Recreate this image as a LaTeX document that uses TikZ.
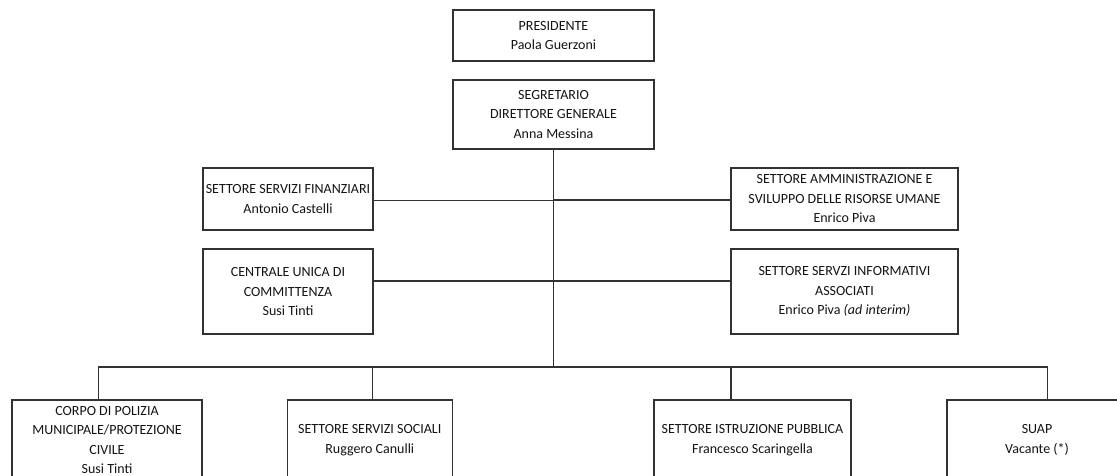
\documentclass[tikz,border=0pt]{standalone}
\usepackage{fontspec}
\setmainfont{Carlito}
\definecolor{linecol}{RGB}{50,50,50}
\definecolor{txtcol}{RGB}{20,20,20}
\begin{document}
\begin{tikzpicture}[x=1pt,y=-1pt,
  box/.style={draw=linecol, line width=1.2pt, rectangle, align=center, inner sep=0pt,
    text=txtcol, font=\fontsize{14}{19.5}\selectfont},
  conn/.style={draw=linecol, line width=1.2pt}]
\clip (0,0) rectangle (1117,475);
\useasboundingbox (0,0) rectangle (1117,475);
\fill[white] (0,0) rectangle (1117,475);

\node[box, minimum width=201pt, minimum height=51pt] (pres) at (553.5,35.5) {PRESIDENTE\\Paola Guerzoni};
\node[box, minimum width=201pt, minimum height=69pt] (segr) at (553.5,114.5) {SEGRETARIO\\DIRETTORE GENERALE\\Anna Messina};

\node[box, minimum width=170pt, minimum height=62pt] (fin) at (288,199) {SETTORE SERVIZI FINANZIARI\\Antonio Castelli};
\node[box, minimum width=170pt, minimum height=85pt] (cuc) at (288,291.5) {CENTRALE UNICA DI\\COMMITTENZA\\Susi Tinti};
\node[box, minimum width=227pt, minimum height=62pt] (amm) at (844.5,199) {SETTORE AMMINISTRAZIONE E\\SVILUPPO DELLE RISORSE UMANE\\Enrico Piva};
\node[box, minimum width=227pt, minimum height=85pt] (inf) at (844.5,291.5) {SETTORE SERVZI INFORMATIVI\\ASSOCIATI\\Enrico Piva \textit{(ad interim)}};

\node[box, minimum width=190pt, minimum height=80pt] (corpo) at (107,440) {CORPO DI POLIZIA\\MUNICIPALE/PROTEZIONE\\CIVILE\\Susi Tinti};
\node[box, minimum width=165pt, minimum height=80pt] (soc) at (369.8,440) {SETTORE SERVIZI SOCIALI\\Ruggero Canulli};
\node[box, minimum width=197pt, minimum height=80pt] (istr) at (752.5,440) {SETTORE ISTRUZIONE PUBBLICA\\Francesco Scaringella};
\node[box, minimum width=180pt, minimum height=80pt] (suap) at (1037,440) {SUAP\\Vacante (*)};

\coordinate (bus) at (553.5,367);

\draw[conn] (segr.south) -- (bus);
\draw[conn] ([yshift=-1.5pt]fin.east) -- ([yshift=-1.5pt]fin.east -| segr.south);
\draw[conn] ([yshift=-1pt]amm.west) -- ([yshift=-1pt]amm.west -| segr.south);
\draw[conn] ([yshift=10.5pt]cuc.east) -- ([yshift=10.5pt]cuc.east -| segr.south);
\draw[conn] ([yshift=10.5pt]inf.west) -- ([yshift=10.5pt]inf.west -| segr.south);

\draw[conn] (bus) -| ([xshift=-8.3pt]corpo.north);
\draw[conn] (bus) -| ([xshift=2.5pt]soc.north);
\draw[conn] (bus) -| ([xshift=-21.5pt]istr.north);
\draw[conn] (bus) -| ([xshift=10.7pt]suap.north);
\end{tikzpicture}
\end{document}
